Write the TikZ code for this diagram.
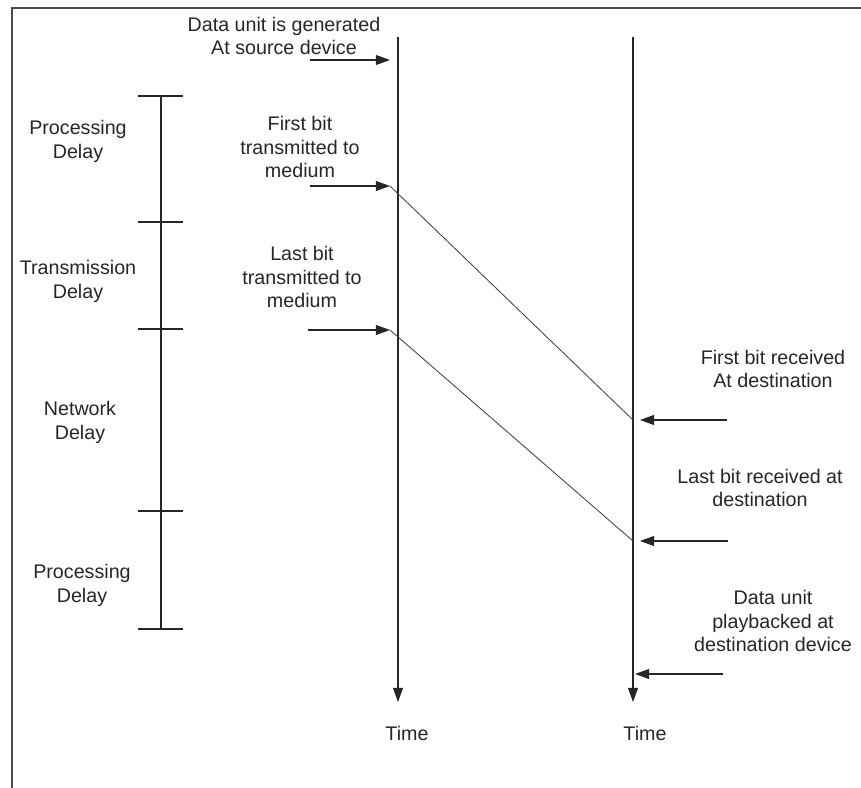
\documentclass[tikz,border=0pt]{standalone}
\usepackage{fontspec}
\setmainfont{Liberation Sans}
\usetikzlibrary{arrows.meta}

\begin{document}
\begin{tikzpicture}[x=0.025cm,y=-0.025cm,line width=.8pt,
  lbl/.style={align=center,inner sep=0pt,text=black!85,font=\fontsize{14}{17}\selectfont},
  evt/.style={draw=black!85,-{Triangle[length=10pt,width=7pt]}}]
\useasboundingbox (0,0) rectangle (861,788);
\draw[black!70,line width=1.8pt] (861,8) -- (12,8) -- (12,788);
% time axes of source and destination
\coordinate (S0) at (398,37); \coordinate (S1) at (398,702);
\coordinate (D0) at (633,37); \coordinate (D1) at (633,702);
\draw[evt] (S0)--(S1); \draw[evt] (D0)--(D1);
\node[lbl] (tS) at (407,733) {Time}; \node[lbl] (tD) at (645,733) {Time};
% events at the source
\coordinate (genA) at (310,60); \coordinate (gen) at (390,60);
\coordinate (txA) at (310,186); \coordinate (tx) at (390,186);
\coordinate (lxA) at (308,330); \coordinate (lx) at (390,330);
\draw[evt] (genA)--(gen); \draw[evt] (txA)--(tx); \draw[evt] (lxA)--(lx);
% events at the destination
\coordinate (rxA) at (727,420); \coordinate (rx) at (640,420); \coordinate (rxD) at (633,420);
\coordinate (ryA) at (728,541); \coordinate (ry) at (640,541); \coordinate (ryD) at (633,541);
\coordinate (pbA) at (723,674); \coordinate (pb) at (635,674);
\draw[evt] (rxA)--(rx); \draw[evt] (ryA)--(ry); \draw[evt] (pbA)--(pb);
\draw[black!75,line width=.6pt] (tx)--(rxD) (lx)--(ryD);
% delay bar
\draw[black!85] (161,96)--(161,629);
\foreach \y in {96,222,329,511,629} \draw[black!85] (138,\y)--(183,\y);
\node[lbl] (pd1) at (78,141) {Processing\\Delay};
\node[lbl] (trd) at (78,281) {Transmission\\Delay};
\node[lbl] (nwd) at (80,422) {Network\\Delay};
\node[lbl] (pd2) at (82,585) {Processing\\Delay};
% event labels
\node[lbl] (genL) at (284,36) {Data unit is generated\\At source device};
\node[lbl] (txL) at (300,147) {First bit\\transmitted to\\medium};
\node[lbl] (lxL) at (302,277) {Last bit\\transmitted to\\medium};
\node[lbl] (rxL) at (773,369) {First bit received\\At destination};
\node[lbl] (ryL) at (760,488) {Last bit received at\\destination};
\node[lbl] (pbL) at (773,621) {Data unit\\playbacked at\\destination device};
\end{tikzpicture}
\end{document}
